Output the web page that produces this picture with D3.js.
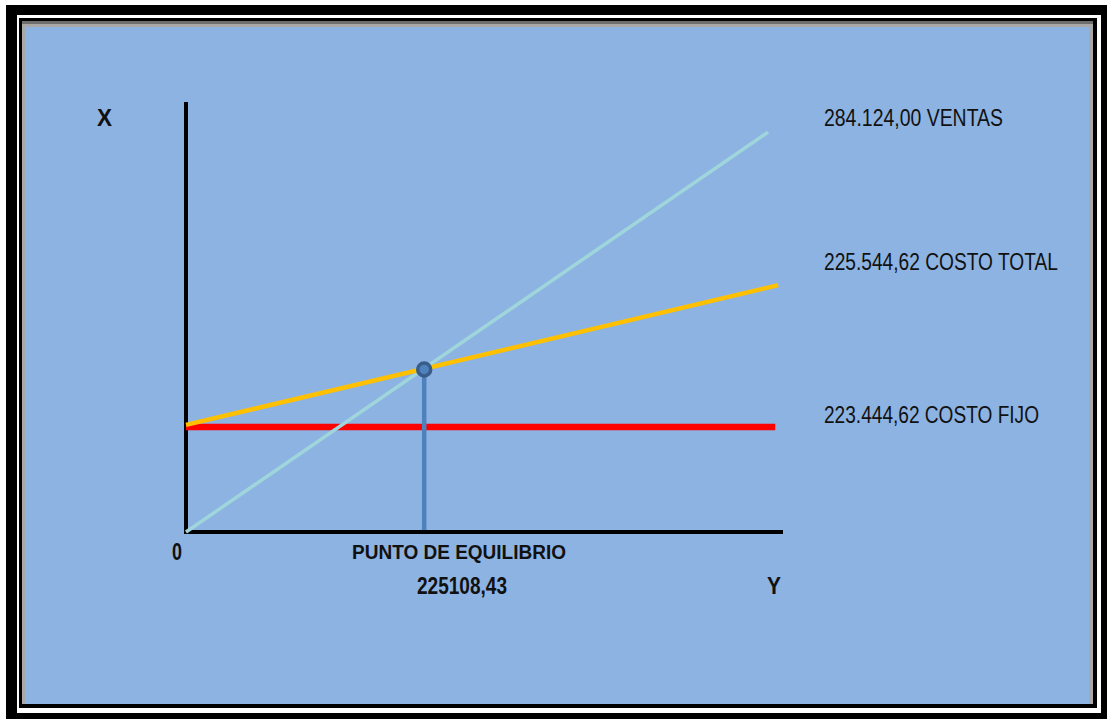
<!DOCTYPE html>
<html>
<head>
<meta charset="utf-8">
<script src="https://cdn.jsdelivr.net/npm/d3@7"></script>
<style>
html,body{margin:0;padding:0;background:#fff;}
svg{display:block;}
text{font-family:"Liberation Sans",Arial,sans-serif;fill:#111;}
</style>
</head>
<body>
<svg id="chart" width="1107" height="719"></svg>
<script>
// ---- data (chart units: quantity 0-100, amount 0-100) ----
const seriesNames = ["VENTAS", "COSTO TOTAL", "COSTO FIJO"];
const ventasX = [0, 97.5];
const ventasY = [0, 93.0];
const costoTotalX = [0, 99.2];
const costoTotalY = [24.9, 57.4];
const costoFijoX = [0, 98.7];
const costoFijoY = [24.4, 24.4];
const equilibrioX = [39.9];
const equilibrioY = [37.8];
const valueLabels = ["284.124,00", "225.544,62", "223.444,62"];
const equilibrioLabel = "PUNTO DE EQUILIBRIO";
const equilibrioValue = "225108,43";
const axisLabels = ["X", "Y", "0"];

const svg = d3.select("#chart");

// ---- frame ----
svg.append("rect").attr("x",6).attr("y",5).attr("width",1101).attr("height",714).attr("fill","#000");
svg.append("rect").attr("x",17).attr("y",15).attr("width",1084).attr("height",698).attr("fill","#fff");
svg.append("rect").attr("x",19).attr("y",18).attr("width",1078).attr("height",690).attr("fill","#000");
svg.append("rect").attr("x",22).attr("y",21).attr("width",1071).attr("height",683).attr("fill","#a8a8a8");
svg.append("rect").attr("x",22).attr("y",21).attr("width",1071).attr("height",3).attr("fill","#6e6e6e");
svg.append("rect").attr("x",25).attr("y",27).attr("width",1064).attr("height",677).attr("fill","#8db3e2");

// ---- scales ----
const x = d3.scaleLinear().domain([0,100]).range([186,783]);
const y = d3.scaleLinear().domain([0,100]).range([532,102]);

// ---- axes (plain lines) ----
svg.append("line").attr("x1",x(0)).attr("x2",x(0)).attr("y1",y(100)).attr("y2",y(0)+2)
  .attr("stroke","#000").attr("stroke-width",4);
svg.append("line").attr("x1",x(0)-2).attr("x2",x(100)).attr("y1",y(0)).attr("y2",y(0))
  .attr("stroke","#000").attr("stroke-width",4);

const line = d3.line().x(d=>x(d[0])).y(d=>y(d[1]));
function draw(xs, ys, color, w){
  svg.append("path").attr("d", line(d3.zip(xs, ys)))
    .attr("fill","none").attr("stroke",color).attr("stroke-width",w);
}
draw(costoFijoX, costoFijoY, "#ff0000", 6.5);
draw(ventasX, ventasY, "#9fd6dc", 3.5);
draw(costoTotalX, costoTotalY, "#ffc000", 4.5);

// equilibrium drop line & point
svg.append("line").attr("x1",x(equilibrioX[0])).attr("x2",x(equilibrioX[0]))
  .attr("y1",y(equilibrioY[0])).attr("y2",y(0)-2)
  .attr("stroke","#4f81bd").attr("stroke-width",4.5);
svg.append("circle").attr("cx",x(equilibrioX[0])).attr("cy",y(equilibrioY[0])).attr("r",6.5)
  .attr("fill","#4f81bd").attr("stroke","#385d8a").attr("stroke-width",3.5);

// ---- texts ----
function txt(s, px, py, size, weight, len){
  svg.append("text").attr("x",px).attr("y",py).text(s)
    .attr("font-size",size).attr("font-weight",weight)
    .attr("textLength",len).attr("lengthAdjust","spacingAndGlyphs");
}
txt(valueLabels[0]+" "+seriesNames[0], 824, 126, 23, "normal", 179);
txt(valueLabels[1]+" "+seriesNames[1], 824, 270, 23, "normal", 234);
txt(valueLabels[2]+" "+seriesNames[2], 824, 423, 23, "normal", 215);
txt(equilibrioLabel, 352, 559, 21, "bold", 214);
txt(equilibrioValue, 417, 594, 23, "bold", 90);
txt(axisLabels[0], 97, 126, 23, "bold", 15);
txt(axisLabels[1], 767, 594, 23, "bold", 14);
txt(axisLabels[2], 172, 560, 23, "bold", 10);
</script>
</body>
</html>
